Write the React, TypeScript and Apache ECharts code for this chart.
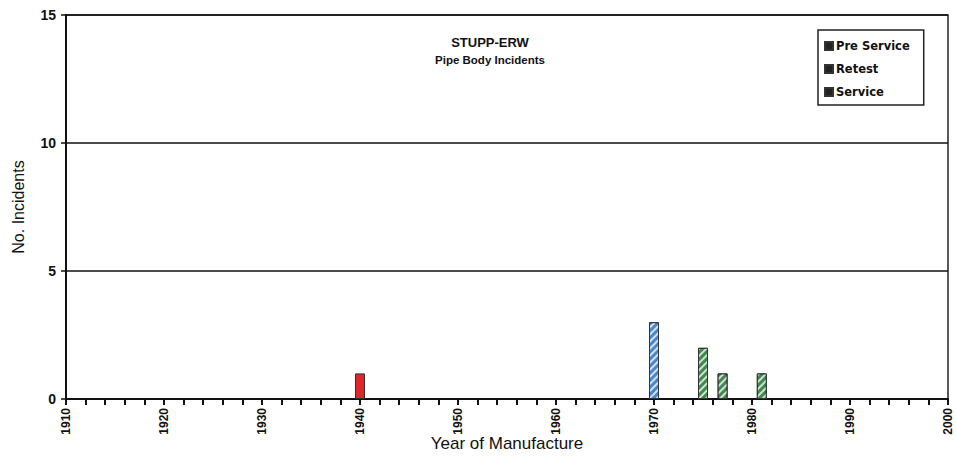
import React, { useEffect, useRef } from "react";
import * as echarts from "echarts";

const preServiceYears = [1970];
const preServiceValues = [3];
const retestYears = [1975, 1977, 1981];
const retestValues = [2, 1, 1];
const serviceYears = [1940];
const serviceValues = [1];

const xMin = 1910;
const xMax = 2000;
const yTicks = [0, 5, 10, 15];

const FONT = "Liberation Sans";

const hatch = {
  symbol: "rect",
  dashArrayX: [1, 0],
  dashArrayY: [2, 3],
  rotation: -Math.PI / 4,
  color: "rgba(255,255,255,0.75)",
};

export default function App() {
  const ref = useRef<HTMLDivElement>(null);
  useEffect(() => {
    const chart = echarts.init(ref.current!, null, { renderer: "svg" });
    const pair = (xs: number[], vs: number[]) => xs.map((x, i) => [x, vs[i]]);
    chart.setOption({
      animation: false,
      backgroundColor: "#fff",
      title: {
        text: "STUPP-ERW",
        subtext: "Pipe Body Incidents",
        left: 485,
        top: 31,
        textAlign: "center",
        itemGap: 5,
        textStyle: { fontFamily: FONT, fontSize: 13, fontWeight: "bold", color: "#111" },
        subtextStyle: { fontFamily: FONT, fontSize: 11.5, fontWeight: "bold", color: "#111" },
      },
      legend: {
        orient: "vertical",
        left: 818,
        top: 30,
        borderColor: "#222",
        borderWidth: 1.5,
        padding: [10, 14, 7, 6],
        itemWidth: 8,
        itemHeight: 8,
        itemGap: 11,
        icon: "rect",
        textStyle: { fontFamily: "DejaVu Sans", fontSize: 11.5, fontWeight: "bold", color: "#111", padding: [0, 0, 0, -2] },
        data: [
          { name: "Pre Service", itemStyle: { color: "#222", decal: "none" } },
          { name: "Retest", itemStyle: { color: "#222", decal: "none" } },
          { name: "Service", itemStyle: { color: "#222", decal: "none" } },
        ],
      },
      grid: {
        left: 66,
        right: 8,
        top: 15,
        bottom: 57,
        outerBoundsMode: "none",
        containLabel: false,
        show: true,
        borderColor: "#222",
        borderWidth: 1.5,
      },
      xAxis: {
        type: "value",
        min: xMin,
        max: xMax,
        interval: 10,
        name: "Year of Manufacture",
        nameLocation: "middle",
        nameGap: 36,
        nameMoveOverlap: false,
        nameTextStyle: { fontFamily: FONT, fontSize: 17, color: "#111", verticalAlign: "top" },
        axisLine: { show: true, lineStyle: { color: "#111", width: 2 } },
        axisTick: { show: true, length: 6, lineStyle: { color: "#111", width: 2 } },
        minorTick: { show: true, splitNumber: 5, length: 6, lineStyle: { color: "#111", width: 2 } },
        splitLine: { show: false },
        axisLabel: {
          rotate: 90,
          margin: 9,
          fontFamily: FONT,
          fontSize: 12,
          fontWeight: "bold",
          color: "#111",
          formatter: (v: number) => String(v),
        },
      },
      yAxis: {
        type: "value",
        min: 0,
        max: 15,
        interval: 5,
        name: "No. Incidents",
        nameLocation: "middle",
        nameGap: 40,
        nameTextStyle: { fontFamily: FONT, fontSize: 16, color: "#111" },
        axisLine: { show: true, lineStyle: { color: "#111", width: 2 } },
        axisTick: { show: true, length: 5, lineStyle: { color: "#111", width: 1.5 } },
        splitLine: { show: true, lineStyle: { color: "#111", width: 1.5 } },
        axisLabel: {
          margin: 10,
          fontFamily: FONT,
          fontSize: 14,
          fontWeight: "bold",
          color: "#111",
          formatter: (v: number) => (yTicks.includes(v) ? String(v) : ""),
        },
      },
      series: [
        {
          name: "Pre Service",
          type: "bar",
          barWidth: 10,
          barGap: "-100%",
          data: pair(preServiceYears, preServiceValues),
          itemStyle: { color: "#4a86c8", borderColor: "#333", borderWidth: 1, decal: hatch },
        },
        {
          name: "Retest",
          type: "bar",
          barWidth: 10,
          barGap: "-100%",
          data: pair(retestYears, retestValues),
          itemStyle: { color: "#3f8a4c", borderColor: "#333", borderWidth: 1, decal: hatch },
        },
        {
          name: "Service",
          type: "bar",
          barWidth: 10,
          barGap: "-100%",
          data: pair(serviceYears, serviceValues),
          itemStyle: { color: "#e0262a", borderColor: "#333", borderWidth: 1 },
        },
      ],
    });
    return () => chart.dispose();
  }, []);
  return <div ref={ref} style={{ width: 956, height: 456, position: "absolute", left: 0, top: 0 }} />;
}
